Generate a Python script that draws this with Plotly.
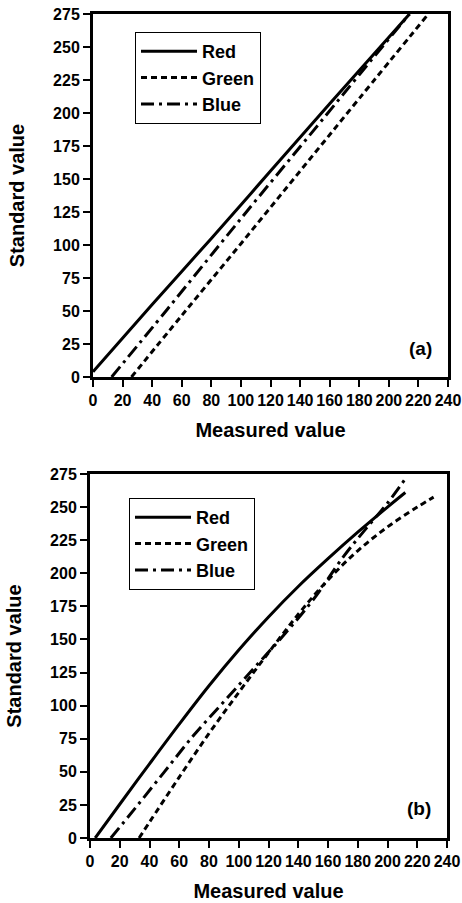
import plotly.graph_objects as go

# ---- data (measured value -> standard value) ----
# Panel (a)
a_red_x = [0, 40, 80, 120, 160, 214]
a_red_y = [4, 55, 105, 156, 207, 275]
a_green_x = [26, 60, 100, 140, 180, 226.7]
a_green_y = [0, 46.6, 101, 156, 211, 275]
a_blue_x = [12.6, 50, 100, 150, 180, 214]
a_blue_y = [0, 51, 120, 188, 229, 275]

# Panel (b)
b_red_x = [3.5, 20, 40, 60, 80, 100, 120, 140, 160, 180, 200, 212]
b_red_y = [0, 25.5, 56, 86, 115, 142, 167, 190, 211, 231, 250, 261]
b_green_x = [33, 40, 60, 80, 100, 120, 140, 160, 180, 200, 220, 231]
b_green_y = [0, 12, 46, 79, 110, 140, 169, 195, 217, 235, 250, 257.5]
b_blue_x = [14, 30, 50, 70, 90, 110, 130, 150, 170, 185, 200, 213]
b_blue_y = [0, 22, 50, 78, 103, 128, 153, 180, 212, 233, 253, 273]

x_ticks = [0, 20, 40, 60, 80, 100, 120, 140, 160, 180, 200, 220, 240]
y_ticks = [0, 25, 50, 75, 100, 125, 150, 175, 200, 225, 250, 275]
series_names = ["Red", "Green", "Blue"]
panel_labels = ["(a)", "(b)"]

W, H = 462, 903
FONT = "Liberation Sans, Arial, Helvetica, sans-serif"

styles = {
    "Red": dict(color="black", width=3, dash="solid"),
    "Green": dict(color="black", width=3, dash="6px,4px"),
    "Blue": dict(color="black", width=3, dash="13px,5px,3px,5px"),
}

fig = go.Figure()
panels = [
    ("x", "y", "legend", [(a_red_x, a_red_y), (a_green_x, a_green_y), (a_blue_x, a_blue_y)]),
    ("x2", "y2", "legend2", [(b_red_x, b_red_y), (b_green_x, b_green_y), (b_blue_x, b_blue_y)]),
]
for xa, ya, lg, data in panels:
    for name, (xs, ys) in zip(series_names, data):
        fig.add_trace(go.Scatter(x=xs, y=ys, mode="lines", name=name,
                                 line=styles[name], xaxis=xa, yaxis=ya,
                                 legend=lg, line_shape="spline"))

def px_x(p):
    return p / W

def px_y(p):
    return 1 - p / H

axis_common = dict(
    showline=True, linewidth=3, linecolor="black", mirror=True,
    ticks="outside", ticklen=7, tickwidth=2, tickcolor="black",
    showgrid=False, zeroline=False, automargin=False,
    ticklabeloverflow="allow",
    tickfont=dict(family=FONT, size=16, color="black", weight="bold"),
)

xa_common = dict(axis_common, range=[0, 240], tickvals=x_ticks,
                 ticktext=[str(v) for v in x_ticks],
                 title=dict(text="Measured value",
                            font=dict(family=FONT, size=20, color="black", weight="bold")))
ya_common = dict(axis_common, range=[0, 275], tickvals=y_ticks,
                 ticktext=[str(v) for v in y_ticks],
                 title=dict(text="Standard value", standoff=24,
                            font=dict(family=FONT, size=20, color="black", weight="bold")))

legend_common = dict(xanchor="left", yanchor="top", itemwidth=56,
                     bordercolor="black", borderwidth=1, bgcolor="white",
                     font=dict(family=FONT, size=18, color="black", weight="bold"))

fig.update_layout(
    width=W, height=H,
    margin=dict(l=0, r=0, t=0, b=0),
    paper_bgcolor="white", plot_bgcolor="white",
    xaxis=dict(xa_common, domain=[px_x(93), px_x(448)], anchor="y"),
    yaxis=dict(ya_common, domain=[px_y(377), px_y(14)], anchor="x"),
    xaxis2=dict(xa_common, domain=[px_x(90), px_x(447)], anchor="y2"),
    yaxis2=dict(ya_common, domain=[px_y(838), px_y(474)], anchor="x2"),
    legend=dict(legend_common, x=px_x(135), y=px_y(32)),
    legend2=dict(legend_common, x=px_x(129), y=px_y(498)),
    showlegend=True,
    annotations=[
        dict(text=panel_labels[0], x=px_x(420), y=px_y(348), xref="paper", yref="paper",
             xanchor="center", yanchor="middle", showarrow=False,
             font=dict(family=FONT, size=19, color="black", weight="bold")),
        dict(text=panel_labels[1], x=px_x(419), y=px_y(808), xref="paper", yref="paper",
             xanchor="center", yanchor="middle", showarrow=False,
             font=dict(family=FONT, size=19, color="black", weight="bold")),
    ],
)

fig.write_html("out.html", config={"displayModeBar": False},
               post_script="document.body.style.margin='0';document.body.style.overflow='hidden';")
